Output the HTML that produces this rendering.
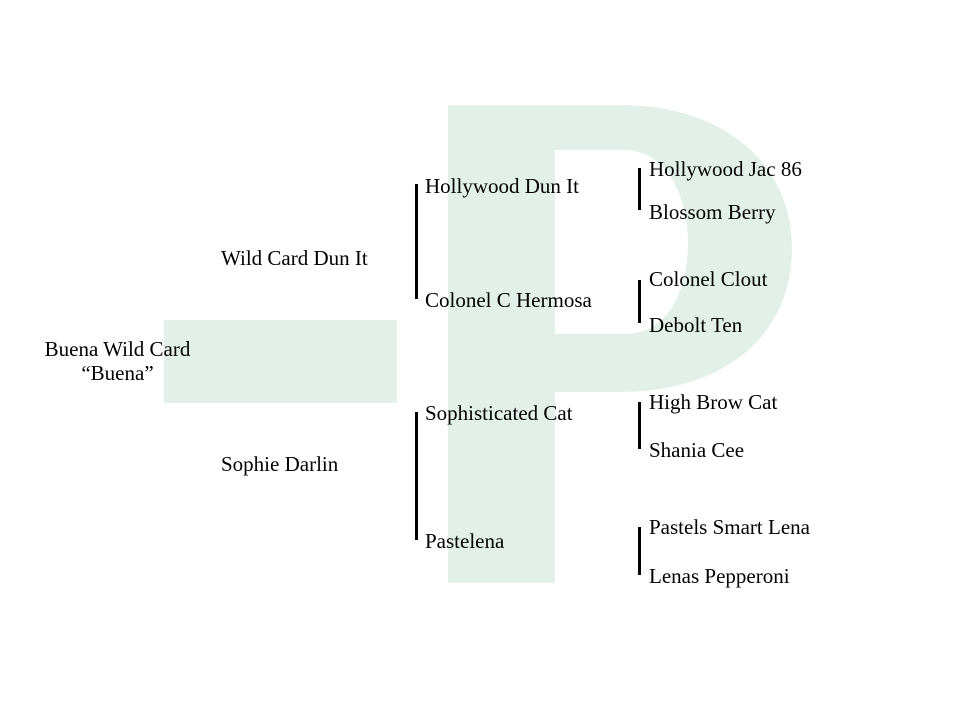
<!DOCTYPE html>
<html><head><style>
body{margin:0;width:960px;height:720px;background:#fff;position:relative;overflow:hidden;font-family:"Liberation Serif",serif;font-size:21px;color:#000}
.t{position:absolute;white-space:nowrap;line-height:22px}
.l{position:absolute;width:3px;background:#000}
</style></head><body>
<svg width="960" height="720" style="position:absolute;left:0;top:0">
<rect x="164" y="320" width="233" height="83" fill="#e3f0ea"/>
<path fill="#e3f0ea" fill-rule="evenodd" d="M448,105 H620 C725,105 792,165 792,248 C792,335 725,392 620,392 H555 V583 H448 Z M555,150 H625 C665,150 688,195 688,242 C688,295 665,334 625,334 H555 Z"/>
</svg>
<div class="t" style="left:34px;top:337px;width:167px;text-align:center;line-height:24px">Buena Wild Card<br>“Buena”</div>
<div class="t" style="left:221px;top:247px">Wild Card Dun It</div>
<div class="t" style="left:221px;top:453px">Sophie Darlin</div>
<div class="l" style="left:415px;top:184px;height:115px"></div>
<div class="l" style="left:415px;top:412px;height:128px"></div>
<div class="t" style="left:425px;top:175px">Hollywood Dun It</div>
<div class="t" style="left:425px;top:289px">Colonel C Hermosa</div>
<div class="t" style="left:425px;top:402px">Sophisticated Cat</div>
<div class="t" style="left:425px;top:530px">Pastelena</div>
<div class="l" style="left:638px;top:168px;height:42px"></div>
<div class="l" style="left:638px;top:280px;height:43px"></div>
<div class="l" style="left:638px;top:402px;height:47px"></div>
<div class="l" style="left:638px;top:527px;height:48px"></div>
<div class="t" style="left:649px;top:158px">Hollywood Jac 86</div>
<div class="t" style="left:649px;top:201px">Blossom Berry</div>
<div class="t" style="left:649px;top:268px">Colonel Clout</div>
<div class="t" style="left:649px;top:314px">Debolt Ten</div>
<div class="t" style="left:649px;top:391px">High Brow Cat</div>
<div class="t" style="left:649px;top:439px">Shania Cee</div>
<div class="t" style="left:649px;top:516px">Pastels Smart Lena</div>
<div class="t" style="left:649px;top:565px">Lenas Pepperoni</div>
</body></html>
